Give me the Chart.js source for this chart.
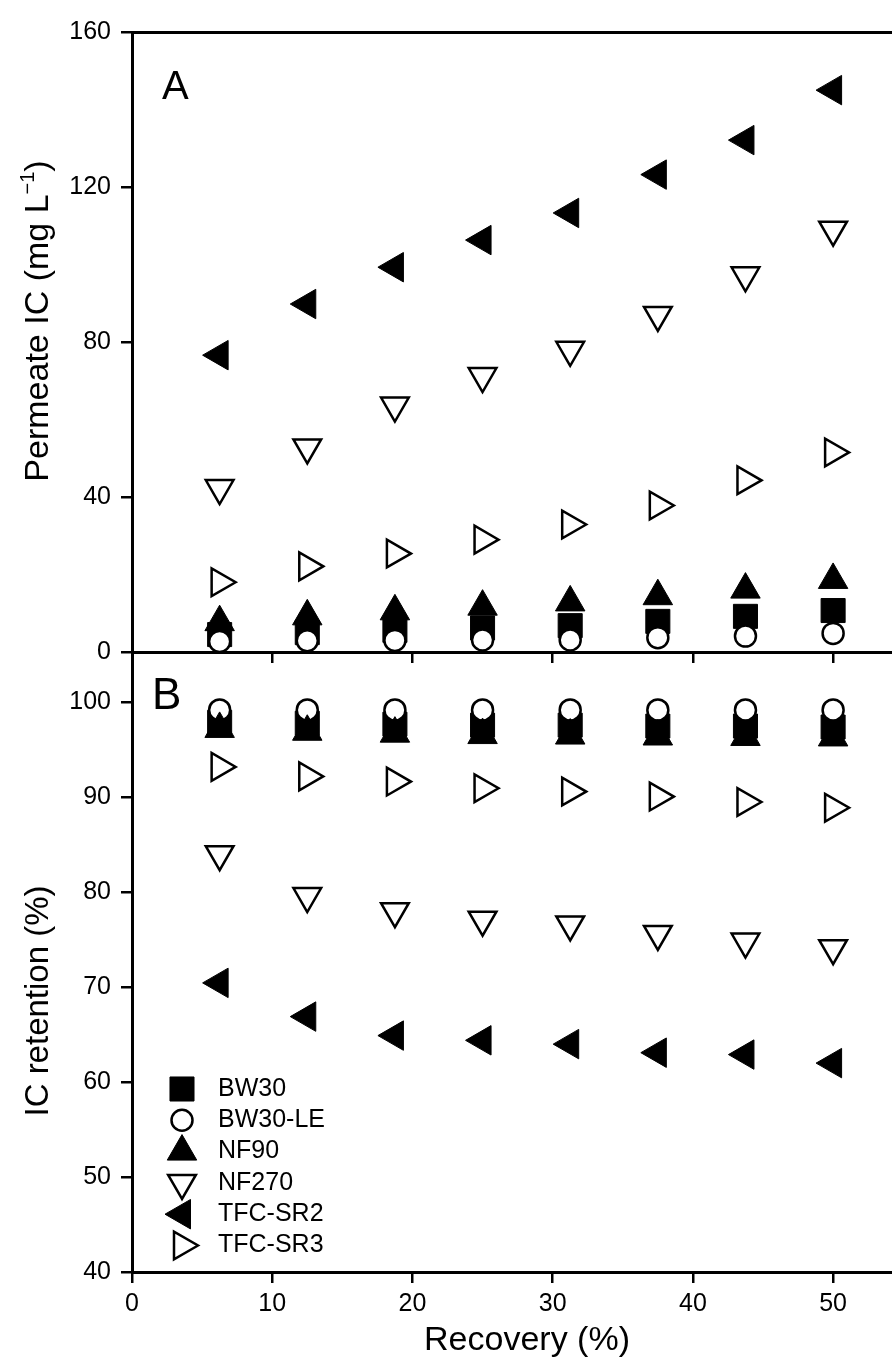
<!DOCTYPE html>
<html>
<head>
<meta charset="utf-8">
<script src="https://cdn.jsdelivr.net/npm/chart.js@4.4.1/dist/chart.umd.min.js"></script>
<style>
  html, body { margin: 0; padding: 0; background: #fff; }
  #wrap { position: relative; width: 892px; height: 1359px; overflow: hidden; }
  #chartA { position: absolute; left: 0; top: 0; }
  #chartB { position: absolute; left: 0; top: 652px; }
</style>
</head>
<body>
<div id="wrap">
  <canvas id="chartA" width="892" height="666"></canvas>
  <canvas id="chartB" width="892" height="707"></canvas>
</div>
<script>
// recovery (%) at which samples were taken
const recovery = [6.25, 12.5, 18.75, 25, 31.25, 37.5, 43.75, 50];
const membranes = ['BW30', 'BW30-LE', 'NF90', 'NF270', 'TFC-SR2', 'TFC-SR3'];

// panel A - permeate IC (mg/L)
const permBW30   = [4.5, 5.0, 5.6, 6.2, 6.8, 7.9, 9.2, 10.7];
const permBW30LE = [2.7, 2.9, 3.0, 3.1, 3.1, 3.7, 4.1, 4.8];
const permNF90   = [7.7, 9.2, 10.5, 11.7, 12.8, 14.4, 16.1, 18.6];
const permNF270  = [42.3, 52.8, 63.6, 71.2, 78.0, 87.0, 97.2, 109.0];
const permSR2    = [76.6, 89.8, 99.3, 106.3, 113.3, 123.2, 132.1, 145.0];
const permSR3    = [18.0, 22.1, 25.4, 29.0, 32.9, 37.8, 44.3, 51.5];

// panel B - IC retention (%)
const retBW30   = [97.9, 97.8, 97.7, 97.6, 97.6, 97.5, 97.5, 97.4];
const retBW30LE = [99.2, 99.2, 99.2, 99.2, 99.2, 99.2, 99.2, 99.2];
const retNF90   = [97.2, 96.9, 96.7, 96.55, 96.5, 96.4, 96.35, 96.3];
const retNF270  = [84.0, 79.6, 78.0, 77.1, 76.6, 75.6, 74.8, 74.1];
const retSR2    = [70.45, 66.9, 64.9, 64.4, 64.0, 63.1, 62.9, 62.0];
const retSR3    = [93.2, 92.2, 91.65, 90.95, 90.6, 90.07, 89.5, 88.9];

const xTicks = [0, 10, 20, 30, 40, 50];
const yTicksA = [0, 40, 80, 120, 160];
const yTicksB = [40, 50, 60, 70, 80, 90, 100];

const FONT = '"Liberation Sans", Arial, Helvetica, sans-serif';
Chart.defaults.font.family = FONT;
Chart.defaults.color = '#000';

const X_MAX = 54.2;

// marker look for each membrane, same order as membranes
const styles = [
  { pointStyle: 'rect',     rotation: 0,   radius: 17,   fill: '#000', border: 1 },
  { pointStyle: 'circle',   rotation: 0,   radius: 10.5, fill: '#fff', border: 2.5 },
  { pointStyle: 'triangle', rotation: 0,   radius: 17,   fill: '#000', border: 1 },
  { pointStyle: 'triangle', rotation: 180, radius: 16,   fill: '#fff', border: 2.5 },
  { pointStyle: 'triangle', rotation: 270, radius: 17,   fill: '#000', border: 1 },
  { pointStyle: 'triangle', rotation: 90,  radius: 16,   fill: '#fff', border: 2.5 }
];

function makeDatasets(series) {
  return series.map((vals, i) => ({
    label: membranes[i],
    data: recovery.map((x, j) => ({ x: x, y: vals[j] })),
    pointStyle: styles[i].pointStyle,
    rotation: styles[i].rotation,
    pointRadius: styles[i].radius,
    backgroundColor: styles[i].fill,
    borderColor: '#000',
    borderWidth: styles[i].border,
    showLine: false,
    clip: false,
    // BW30 goes underneath, TFC-SR3 on top
    order: series.length - i
  }));
}

const axisBorder = { display: true, color: '#000', width: 3 };
const tickMarks = {
  display: true, drawOnChartArea: false, drawTicks: true,
  tickLength: 11, tickWidth: 2.5, tickColor: '#000', color: '#000', lineWidth: 2.5
};

function fixedTicks(values) {
  return function (scale) {
    scale.ticks = values.map(v => ({ value: v }));
  };
}

// pin the scale box size and drop the label overhang padding
function fitTo(prop, size) {
  return function (s) {
    s[prop] = size;
    s.paddingTop = 0;
    s.paddingBottom = 0;
    s.paddingLeft = 0;
    s.paddingRight = 0;
  };
}

function drawPieces(ctx, pieces) {
  let total = 0;
  pieces.forEach(p => {
    ctx.font = p.size + 'px ' + FONT;
    p.w = ctx.measureText(p.text).width;
    total += p.w;
  });
  let x = -total / 2;
  pieces.forEach(p => {
    ctx.font = p.size + 'px ' + FONT;
    ctx.fillText(p.text, x, -(p.rise || 0));
    x += p.w;
  });
}

// panel letter, rotated y title (with superscript pieces), optional x title
const panelText = {
  id: 'panelText',
  afterDraw(chart, args, opts) {
    const ctx = chart.ctx;
    const a = chart.chartArea;
    ctx.save();
    ctx.fillStyle = '#000';
    ctx.textBaseline = 'alphabetic';
    ctx.textAlign = 'left';
    ctx.font = opts.letterSize + 'px ' + FONT;
    ctx.fillText(opts.letter, a.left + opts.letterDx, a.top + opts.letterDy);

    ctx.save();
    ctx.translate(opts.titleX, opts.titleY);
    ctx.rotate(-Math.PI / 2);
    drawPieces(ctx, opts.title);
    ctx.restore();

    if (opts.xTitle) {
      ctx.translate(opts.xTitleX, opts.xTitleY);
      drawPieces(ctx, opts.xTitle);
    }
    ctx.restore();
  }
};

// legend inside panel B
const markerLegend = {
  id: 'markerLegend',
  afterDraw(chart, args, opts) {
    const ctx = chart.ctx;
    const a = chart.chartArea;
    ctx.save();
    chart.data.datasets.forEach((ds, i) => {
      const y = a.bottom + opts.firstDy + i * opts.rowGap;
      ctx.fillStyle = ds.backgroundColor;
      ctx.strokeStyle = ds.borderColor;
      ctx.lineWidth = ds.borderWidth;
      Chart.helpers.drawPoint(ctx, {
        pointStyle: ds.pointStyle, rotation: ds.rotation,
        radius: ds.pointRadius, borderWidth: ds.borderWidth
      }, a.left + opts.symbolDx, y);
      ctx.fillStyle = '#000';
      ctx.font = opts.fontSize + 'px ' + FONT;
      ctx.textBaseline = 'middle';
      ctx.textAlign = 'left';
      ctx.fillText(ds.label, a.left + opts.textDx, y);
    });
    ctx.restore();
  }
};

const chartA = new Chart(document.getElementById('chartA'), {
  type: 'scatter',
  data: { datasets: makeDatasets([permBW30, permBW30LE, permNF90, permNF270, permSR2, permSR3]) },
  options: {
    responsive: false,
    animation: false,
    events: [],
    layout: { autoPadding: false, padding: 0 },
    plugins: {
      legend: { display: false },
      tooltip: { enabled: false },
      panelText: {
        letter: 'A', letterSize: 40, letterDx: 30, letterDy: 67,
        titleX: 48, titleY: 321,
        title: [
          { text: 'Permeate IC (mg L', size: 34 },
          { text: '\u2212', size: 20, rise: 14 },
          { text: '1', size: 20, rise: 14 },
          { text: ')', size: 34 }
        ]
      }
    },
    scales: {
      x: {
        type: 'linear', position: 'bottom', min: 0, max: X_MAX,
        afterBuildTicks: fixedTicks(xTicks),
        ticks: { display: false },
        grid: tickMarks, border: axisBorder,
        afterFit: fitTo('height', 14)
      },
      xTop: {
        type: 'linear', position: 'top', min: 0, max: X_MAX,
        ticks: { display: false },
        grid: { display: false, drawTicks: false },
        border: axisBorder,
        afterFit: fitTo('height', 32)
      },
      y: {
        min: 0, max: 160,
        afterBuildTicks: fixedTicks(yTicksA),
        ticks: { font: { size: 25 }, padding: 10 },
        grid: tickMarks, border: axisBorder,
        afterFit: fitTo('width', 132)
      }
    }
  },
  plugins: [panelText]
});

const chartB = new Chart(document.getElementById('chartB'), {
  type: 'scatter',
  data: { datasets: makeDatasets([retBW30, retBW30LE, retNF90, retNF270, retSR2, retSR3]) },
  options: {
    responsive: false,
    animation: false,
    events: [],
    layout: { autoPadding: false, padding: 0 },
    plugins: {
      legend: { display: false },
      tooltip: { enabled: false },
      panelText: {
        letter: 'B', letterSize: 44, letterDx: 20, letterDy: 57,
        titleX: 48, titleY: 349,
        title: [{ text: 'IC retention (%)', size: 33 }],
        xTitleX: 527, xTitleY: 698,
        xTitle: [{ text: 'Recovery (%)', size: 34 }]
      },
      markerLegend: { firstDy: -183, rowGap: 31.3, symbolDx: 50, textDx: 86, fontSize: 25 }
    },
    scales: {
      x: {
        type: 'linear', position: 'bottom', min: 0, max: X_MAX,
        afterBuildTicks: fixedTicks(xTicks),
        ticks: { font: { size: 25 }, padding: 6 },
        grid: tickMarks, border: axisBorder,
        afterFit: fitTo('height', 87)
      },
      y: {
        min: 40, max: 105.3,
        afterBuildTicks: fixedTicks(yTicksB),
        ticks: { font: { size: 25 }, padding: 10 },
        grid: tickMarks, border: axisBorder,
        afterFit: fitTo('width', 132)
      }
    }
  },
  plugins: [panelText, markerLegend]
});
</script>
</body>
</html>
